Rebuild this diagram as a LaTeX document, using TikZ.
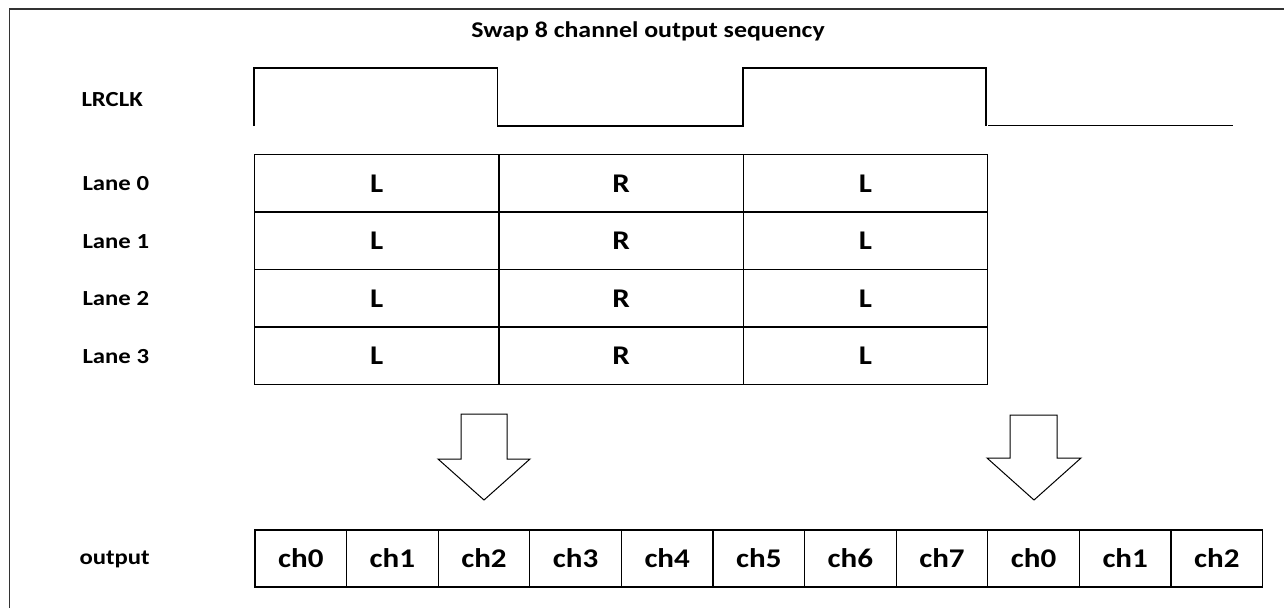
\documentclass[tikz,border=0pt]{standalone}
\usepackage{fontspec}
\setmainfont[FakeStretch=1.15]{Carlito}
\usetikzlibrary{positioning}

\begin{document}
\begin{tikzpicture}[
    x=1pt, y=-1pt,
    label/.style={anchor=west, font=\fontsize{21.5}{24}\selectfont\bfseries},
    lanecell/.style={draw, line width=1.2pt, minimum width=244.3pt, minimum height=57.5pt, inner sep=0pt, outer sep=0pt, font=\fontsize{27}{30}\selectfont\bfseries},
    chcell/.style={draw, line width=1.2pt, minimum width=91.6pt, minimum height=57pt, inner sep=0pt, outer sep=0pt, font=\fontsize{27}{30}\selectfont\bfseries},
    wave/.style={line width=1.3pt},
    bigarrow/.style={draw, line width=1pt, fill=white, line join=miter},
    node distance=0pt
]
    \useasboundingbox (0,0) rectangle (1284,608);

    % Frame
    \draw[line width=1.6pt, black!80] (9.5,608) -- (9.5,9) -- (1284,9);

    % Title
    \node[font=\fontsize{22.5}{26}\selectfont\bfseries] (title) at (648,31) {Swap 8 channel output sequency};

    % Row labels
    \node[label] (lrclk) at (78,100) {LRCLK};
    \node[label] (lane0) at (79,184) {Lane 0};
    \node[label] (lane1) at (79,242) {Lane 1};
    \node[label] (lane2) at (79,299) {Lane 2};
    \node[label] (lane3) at (79,357) {Lane 3};
    \node[label] (outlbl) at (76,559) {output};

    % LRCLK waveform
    \coordinate (w0) at (254,126);
    \draw[wave] (w0) -- ++(0,-58) -- ++(243.5,0) -- ++(0,58) -- ++(245.5,0) -- ++(0,-58) -- ++(243,0) -- ++(0,58);
    \draw[wave] (988,125.5) -- (1233,125.5);

    % Lanes
    \foreach \r in {0,...,3} {
        \node[lanecell, anchor=north west] (c\r a) at (254.6,{154.5+57.5*\r}) {L};
        \node[lanecell, right=of c\r a] (c\r b) {R};
        \node[lanecell, right=of c\r b] (c\r c) {L};
    }

    % Block arrows
    \draw[bigarrow] (461,414) -- (507,414) -- (507,459) -- (530,459) -- (484,500) -- (438,459) -- (461,459) -- cycle;
    \draw[bigarrow] (1010,415) -- (1057,415) -- (1057,458) -- (1081,458) -- (1034,500) -- (987,458) -- (1010,458) -- cycle;

    % Output sequence
    \node[chcell, anchor=north west] (o0) at (255,530) {ch0};
    \foreach \i/\t [remember=\i as \p (initially 0)] in {1/ch1,2/ch2,3/ch3,4/ch4,5/ch5,6/ch6,7/ch7,8/ch0,9/ch1,10/ch2} {
        \node[chcell, right=of o\p] (o\i) {\t};
    }
\end{tikzpicture}
\end{document}
